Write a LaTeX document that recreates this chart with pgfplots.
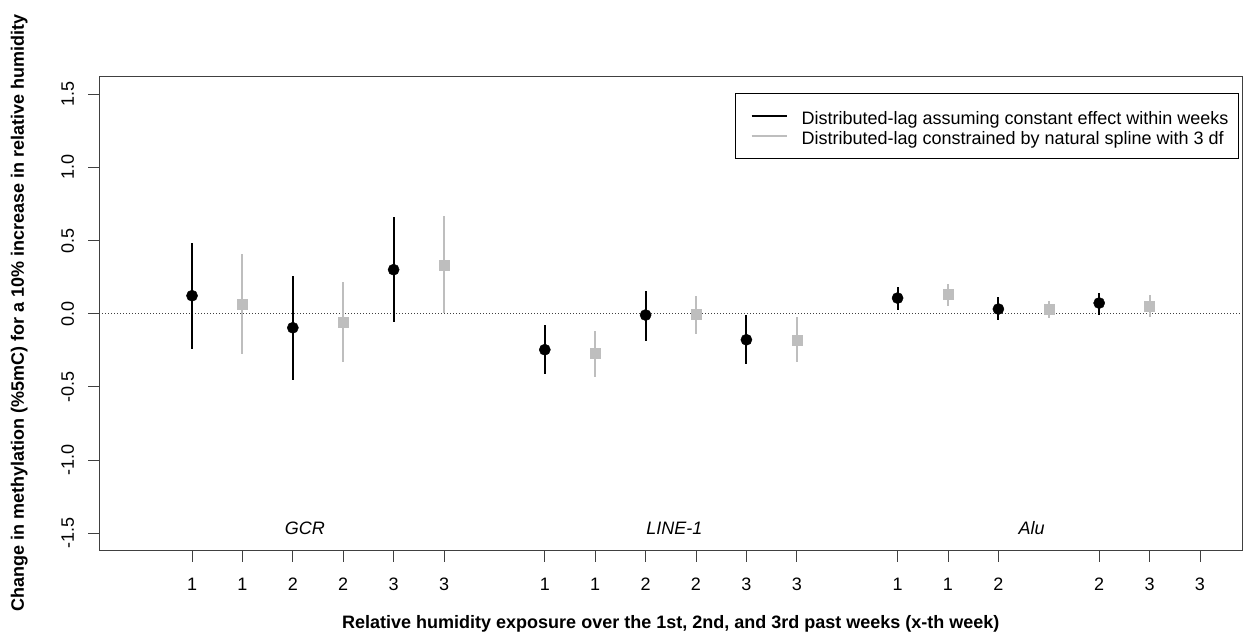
\documentclass[border=0pt]{standalone}
\usepackage{fontspec}
\setmainfont{Liberation Sans}
\usepackage{pgfplots}
\usepackage{pgfplotstable}
\pgfplotsset{compat=1.18}
\definecolor{rgrey}{HTML}{BEBEBE}
\definecolor{axgrey}{HTML}{404040}
\newcommand{\fs}{\fontsize{18}{21.5}\selectfont}

\pgfplotstableread{
x y lo hi
1 0.123 -0.239 0.483
3 -0.096 -0.456 0.258
5 0.301 -0.057 0.658
8 -0.246 -0.412 -0.077
10 -0.009 -0.187 0.155
12 -0.178 -0.346 -0.011
15 0.107 0.023 0.180
17 0.032 -0.046 0.111
19 0.073 -0.007 0.141
}\blacktab

\pgfplotstableread{
x y lo hi
2 0.068 -0.276 0.408
4 -0.057 -0.333 0.217
6 0.330 0.005 0.665
9 -0.269 -0.431 -0.116
11 -0.005 -0.137 0.123
13 -0.178 -0.333 -0.023
16 0.135 0.055 0.205
18 0.034 -0.032 0.087
20 0.050 -0.023 0.125
}\greytab

\begin{document}
\fs
\begin{tikzpicture}
\useasboundingbox (0,0) rectangle (1248pt,638pt);
\begin{axis}[
  at={(99.3pt,87.3pt)}, anchor=south west,
  scale only axis, width=1143pt, height=474.7pt,
  xmin=-0.84, xmax=21.84, ymin=-1.62, ymax=1.625,
  axis line style={axgrey, line width=0.9pt},
  tick pos=left, tick align=outside, major tick length=11pt,
  tick style={axgrey, line width=0.9pt},
  xtick={1,2,3,4,5,6,8,9,10,11,12,13,15,16,17,19,20,21},
  xticklabels={1,1,2,2,3,3,1,1,2,2,3,3,1,1,2,2,3,3},
  ytick={-1.5,-1,-0.5,0,0.5,1,1.5},
  yticklabels={-1.5,-1.0,-0.5,0.0,0.5,1.0,1.5},
  xticklabel style={font=\fs, anchor=base, yshift=-28.3pt},
  yticklabel style={font=\fs, xshift=-14.3pt, rotate=90, anchor=base},
  every axis x label/.style={at={(rel axis cs:0.5,0)}, anchor=base, yshift=-78pt, font=\fs\bfseries},
  every axis y label/.style={at={(rel axis cs:0,0.5)}, xshift=-75.5pt, rotate=90, anchor=base, font=\fs\bfseries},
  xlabel={Relative humidity exposure over the 1st, 2nd, and 3rd past weeks (x-th week)},
  ylabel={Change in methylation (\%5mC) for a 10\% increase in relative humidity},
  legend style={at={(rel axis cs:0.997,0.9636)}, anchor=north east, draw=black, line width=0.8pt,
    inner xsep=10pt, inner ysep=10pt, font=\fs,
    nodes={inner sep=0pt, text height=20.7pt, text depth=4.3pt},
    row sep=-5pt},
  legend cell align=left,
  clip=false,
]
\addplot[forget plot, axgrey, line width=0.8pt, dash pattern=on 1pt off 2pt] coordinates {(-0.84,0) (21.84,0)};

\addplot[only marks, mark=*, mark size=5.6pt, black, mark options={fill=black, draw=black},
  legend image code/.code={\path[draw=none, fill=none] (0pt,-3pt) rectangle (55.7pt,3pt); \draw[black, line width=2pt] (5.7pt,0pt) -- (40.7pt,0pt);},
  error bars/.cd, y dir=both, y explicit, error mark=none,
  error bar style={line width=2pt, black}]
  table[x=x, y=y, y error plus expr=\thisrow{hi}-\thisrow{y}, y error minus expr=\thisrow{y}-\thisrow{lo}] {\blacktab};
\addlegendentry{Distributed-lag assuming constant effect within weeks}

\addplot[only marks, mark=square*, mark size=5pt, rgrey, mark options={fill=rgrey, draw=rgrey},
  legend image code/.code={\path[draw=none, fill=none] (0pt,-3pt) rectangle (55.7pt,3pt); \draw[rgrey, line width=2pt] (5.7pt,0pt) -- (40.7pt,0pt);},
  error bars/.cd, y dir=both, y explicit, error mark=none,
  error bar style={line width=2pt, rgrey}]
  table[x=x, y=y, y error plus expr=\thisrow{hi}-\thisrow{y}, y error minus expr=\thisrow{y}-\thisrow{lo}] {\greytab};
\addlegendentry{Distributed-lag constrained by natural spline with 3 df}

\node[anchor=base, font=\fs\itshape] at (axis cs:3.24,-1.506) {GCR};
\node[anchor=base, font=\fs\itshape] at (axis cs:10.57,-1.506) {LINE-1};
\node[anchor=base, font=\fs\itshape] at (axis cs:17.66,-1.506) {Alu};
\end{axis}
\end{tikzpicture}
\end{document}
